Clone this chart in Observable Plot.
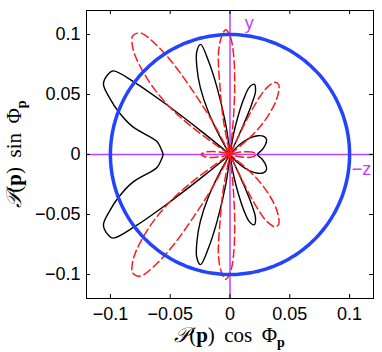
<!DOCTYPE html>
<html><head><meta charset="utf-8">
<script src="https://cdn.jsdelivr.net/npm/d3@7"></script>
<script src="https://cdn.jsdelivr.net/npm/@observablehq/plot@0.6"></script>
<style>body{margin:0;background:#fff}</style>
</head><body><div id="chart"></div>
<script>
const xTicks = [-0.1, -0.05, 0, 0.05, 0.1];
const yTicks = [-0.1, -0.05, 0, 0.05, 0.1];
const axisDomain = [-0.12, 0.12];
const circleRadius = 0.1;

// black solid curve: polar angle (deg) and radius, upper half (angle) and lower half (-angle)
const blackAngles = [0, 8, 16, 22, 28, 34, 40, 46, 52, 64, 65.5, 66.5, 68, 71, 74, 76, 78, 80, 82, 96, 98, 101, 103, 105, 108, 111, 114, 117, 120, 122, 140, 141, 142, 143, 144.5, 147, 151, 155, 159, 164, 170, 175, 180];
const blackUpper = [0.023, 0.027, 0.031, 0.033, 0.032, 0.028, 0.021, 0.011, 0, 0, 0.025, 0.045, 0.057, 0.062, 0.058, 0.048, 0.033, 0.018, 0, 0, 0.025, 0.057, 0.08, 0.095, 0.09, 0.077, 0.061, 0.04, 0.015, 0, 0, 0.03, 0.07, 0.1, 0.12, 0.122, 0.121, 0.111, 0.1, 0.085, 0.062, 0.058, 0.056];
const blackLower = [0.023, 0.027, 0.031, 0.033, 0.032, 0.028, 0.021, 0.011, 0, 0, 0.025, 0.045, 0.057, 0.062, 0.058, 0.048, 0.033, 0.018, 0, 0, 0.025, 0.057, 0.08, 0.095, 0.09, 0.077, 0.061, 0.04, 0.015, 0, 0, 0.03, 0.07, 0.1, 0.12, 0.122, 0.121, 0.111, 0.1, 0.085, 0.062, 0.058, 0.056];

// red dashed curve
const redAngles = [0, 6, 11, 15, 17, 38, 41, 45, 50, 55, 58, 61, 62.5, 63.5, 64.5, 66, 83, 84.5, 86, 88, 90, 92, 94, 96.5, 98.5, 101, 103, 116, 118, 120, 122, 124, 126.5, 129.5, 132, 134, 136, 139, 142, 144, 146, 147, 163, 166, 170, 175, 180];
const redUpper = [0.022, 0.019, 0.012, 0.005, 0, 0, 0.026, 0.044, 0.061, 0.071, 0.071, 0.064, 0.055, 0.044, 0.025, 0, 0, 0.028, 0.056, 0.084, 0.099, 0.104, 0.099, 0.085, 0.056, 0.029, 0, 0, 0.03, 0.055, 0.088, 0.11, 0.126, 0.128, 0.122, 0.114, 0.103, 0.085, 0.063, 0.042, 0.015, 0, 0, 0.006, 0.014, 0.021, 0.024];
const redLower = [0.022, 0.019, 0.012, 0.005, 0, 0, 0.026, 0.044, 0.061, 0.071, 0.071, 0.064, 0.055, 0.044, 0.025, 0, 0, 0.028, 0.056, 0.084, 0.099, 0.104, 0.099, 0.085, 0.056, 0.029, 0, 0, 0.03, 0.055, 0.088, 0.11, 0.126, 0.128, 0.122, 0.114, 0.103, 0.085, 0.063, 0.042, 0.015, 0, 0, 0.006, 0.014, 0.021, 0.024];

const directionLabels = ["y", "\u2212z"];
const directionX = [0.016, 0.11];
const directionY = [0.109, -0.0125];

function polarLoop(angles, upper, lower) {
  const pts = angles.map((a, i) => ({a, r: upper[i]}));
  for (let i = angles.length - 1; i >= 0; i--) {
    const a = angles[i];
    if (a === 0 || a === 180) continue;
    pts.push({a: -a, r: lower[i]});
  }
  return pts.map(d => ({x: d.r * Math.cos(d.a * Math.PI / 180), y: d.r * Math.sin(d.a * Math.PI / 180)}));
}
const blackPts = polarLoop(blackAngles, blackUpper, blackLower);
const redPts = polarLoop(redAngles, redUpper, redLower);
const circlePts = d3.range(0, 360, 2).map(a => ({x: circleRadius * Math.cos(a * Math.PI / 180), y: circleRadius * Math.sin(a * Math.PI / 180)}));
const dirData = directionLabels.map((t, i) => ({t, x: directionX[i], y: directionY[i]}));

const W = 382, H = 352, ML = 86, MR = 9, MT = 10, MB = 54;
const frameW = W - ML - MR, frameH = H - MT - MB, tickLen = 4;
const magenta = "#bf40ff";
const fmt = d => d === 0 ? "0" : (d < 0 ? "\u2212" : "") + String(Math.abs(d));

const plot = Plot.plot({
  width: W, height: H,
  marginLeft: ML, marginRight: MR, marginTop: MT, marginBottom: MB,
  x: {domain: axisDomain},
  y: {domain: axisDomain},
  style: {fontFamily: "Liberation Sans, Arial, sans-serif", background: "#fff"},
  marks: [
    Plot.ruleX([0], {stroke: magenta, strokeWidth: 1.5}),
    Plot.ruleY([0], {stroke: magenta, strokeWidth: 1.5}),
    Plot.line(blackPts, {x: "x", y: "y", curve: "catmull-rom-closed", stroke: "black", strokeWidth: 1.4}),
    Plot.line(redPts, {x: "x", y: "y", curve: "catmull-rom-closed", stroke: "#ff1a1a", strokeWidth: 1.5, strokeDasharray: "8,4"}),
    Plot.line(circlePts, {x: "x", y: "y", curve: "catmull-rom-closed", stroke: "#2343ff", strokeWidth: 3.5}),
    Plot.text(dirData, {x: "x", y: "y", text: "t", fill: magenta, fontSize: 18}),
    Plot.tickX(xTicks, {x: d => d, insetTop: frameH - tickLen, stroke: "black"}),
    Plot.tickX(xTicks, {x: d => d, insetBottom: frameH - tickLen, stroke: "black"}),
    Plot.tickY(yTicks, {y: d => d, insetRight: frameW - tickLen, stroke: "black"}),
    Plot.tickY(yTicks, {y: d => d, insetLeft: frameW - tickLen, stroke: "black"}),
    Plot.frame({stroke: "black", strokeWidth: 1}),
    Plot.axisX(xTicks, {anchor: "bottom", tickSize: 0, tickPadding: 9, tickFormat: fmt, fontSize: 18, label: null}),
    Plot.axisY(yTicks, {anchor: "left", tickSize: 0, tickPadding: 6, tickFormat: fmt, fontSize: 18, label: null})
  ]
});
document.getElementById("chart").appendChild(plot);

const svg = d3.select(plot);
function mathLabel(g, fn) {
  const t = g.append("text").attr("text-anchor", "middle").attr("font-family", "Liberation Serif, DejaVu Serif, serif").attr("font-size", 21).attr("fill", "black");
  t.append("tspan").attr("font-style", "italic").text("\uD835\uDCAB");
  t.append("tspan").text("(");
  t.append("tspan").attr("font-weight", "bold").text("p");
  t.append("tspan").text(")\u2009" + fn + "\u2009\u03A6");
  t.append("tspan").attr("font-weight", "bold").attr("font-size", 14).attr("dy", 5).text("p");
  return t;
}
const gx = svg.append("g").attr("transform", `translate(${ML + frameW / 2},342)`);
mathLabel(gx, " cos ");
const gy = svg.append("g").attr("transform", `translate(21,${MT + frameH / 2}) rotate(-90)`);
mathLabel(gy, " sin ");
</script></body></html>
